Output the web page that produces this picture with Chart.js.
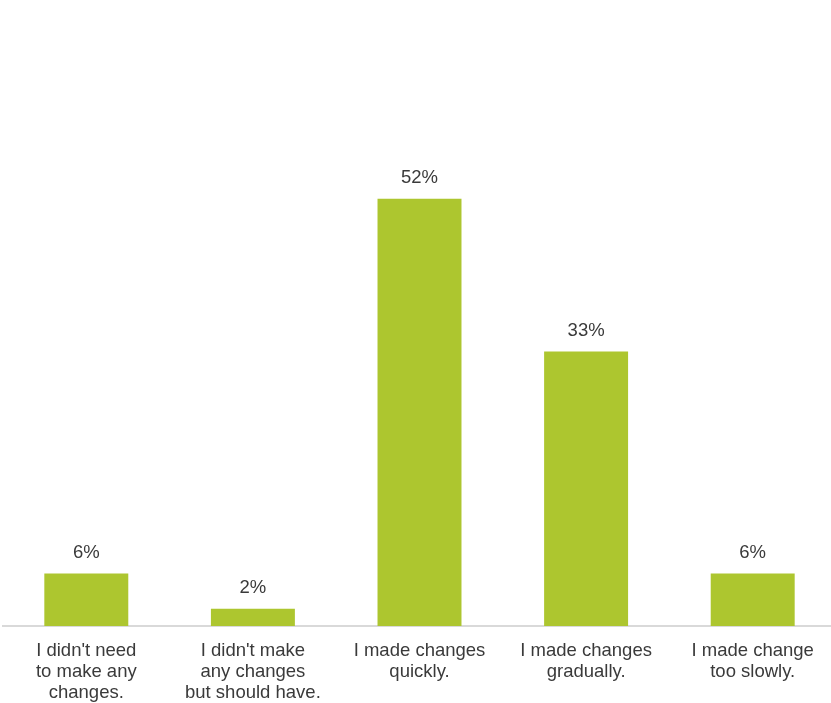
<!DOCTYPE html>
<html lang="en">
<head>
    <meta charset="UTF-8">
    <title>Changes chart</title>
    <script src="https://cdn.jsdelivr.net/npm/chart.js"></script>
    <style>
        html, body {
            margin: 0;
            padding: 0;
            overflow: hidden;
            background-color: #fff;
        }

        #chart-box {
            position: relative;
            width: 836px;
            height: 709px;
        }
    </style>
</head>
<body>
<div id="chart-box">
    <canvas id="chart1"></canvas>
</div>

<script>
    var categories = [
        ["I didn't need", "to make any", "changes."],
        ["I didn't make", "any changes", "but should have."],
        ["I made changes", "quickly."],
        ["I made changes", "gradually."],
        ["I made change", "too slowly."]
    ];
    var shares = [6.4, 2.1, 52, 33.4, 6.4];

    // labels above each bar, like the datalabels plugin
    var valueLabels = {
        id: 'valueLabels',
        afterDatasetsDraw: function (chart) {
            var ctx = chart.ctx;
            var meta = chart.getDatasetMeta(0);
            ctx.save();
            ctx.font = '18.5px "Liberation Sans", Arial, sans-serif';
            ctx.fillStyle = '#3a3a3a';
            ctx.textAlign = 'center';
            ctx.textBaseline = 'middle';
            meta.data.forEach(function (bar, i) {
                ctx.fillText(Math.round(shares[i]) + '%', bar.x, bar.y - 21);
            });
            ctx.restore();
        }
    };

    var ctx = document.getElementById('chart1').getContext('2d');
    new Chart(ctx, {
        type: 'bar',
        data: {
            labels: categories,
            datasets: [{
                data: shares,
                backgroundColor: '#adc62f',
                barPercentage: 0.504,
                categoryPercentage: 1
            }]
        },
        options: {
            responsive: true,
            maintainAspectRatio: false,
            animation: false,
            layout: {
                padding: { top: 133, left: 3, right: 0, bottom: 0 }
            },
            plugins: {
                legend: { display: false },
                tooltip: { enabled: false }
            },
            scales: {
                x: {
                    grid: { display: false },
                    border: { display: true, color: '#d9d9d9', width: 2 },
                    ticks: {
                        color: '#3a3a3a',
                        padding: 6,
                        maxRotation: 0,
                        autoSkip: false,
                        font: { family: '"Liberation Sans", Arial, sans-serif', size: 18.5, lineHeight: 1.135 }
                    }
                },
                y: {
                    display: false,
                    min: 0,
                    max: 60
                }
            }
        },
        plugins: [valueLabels]
    });
</script>
</body>
</html>
